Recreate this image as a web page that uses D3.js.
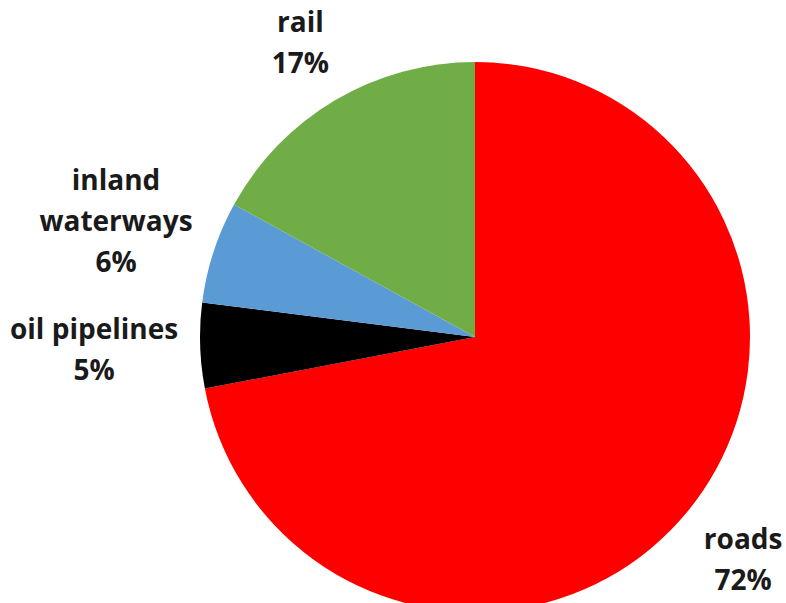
<!DOCTYPE html>
<html>
<head>
<meta charset="utf-8">
<script src="https://cdn.jsdelivr.net/npm/d3@7"></script>
<style>
  body { margin: 0; background: #fff; }
  svg { display: block; }
</style>
</head>
<body>
<div id="chart"></div>
<script>
// shares of freight transport, clockwise from 12 o'clock
var categories = ['roads', 'oil pipelines', 'inland waterways', 'rail'];
var values = [72, 5, 6, 17];
var labelLines = [['roads', '72%'], ['oil pipelines', '5%'], ['inland', 'waterways', '6%'], ['rail', '17%']];
var colors = ['#ff0000', '#000000', '#5b9bd5', '#70ad47'];

var width = 786, height = 603;
var cx = 475, cy = 337, radius = 275;
var lineH = 41;

var svg = d3.select('#chart').append('svg')
    .attr('width', width)
    .attr('height', height);

var g = svg.append('g')
    .attr('transform', 'translate(' + cx + ',' + cy + ')');

var rows = categories.map(function(c, i) { return { name: c, value: values[i], i: i }; });

var pie = d3.pie()
    .sort(null)
    .value(function(d) { return d.value; });

var arc = d3.arc()
    .innerRadius(0)
    .outerRadius(radius);

var arcs = pie(rows);

g.selectAll('path')
    .data(arcs)
    .enter()
    .append('path')
    .attr('d', arc)
    .attr('fill', function(d) { return colors[d.data.i]; });

// labels: box sits just outside the rim along the slice's mid angle
var labels = g.selectAll('g.lbl')
    .data(arcs)
    .enter()
    .append('g')
    .attr('class', 'lbl');

var txt = labels.append('text')
    .attr('text-anchor', 'middle')
    .style('font-family', '"Open Sans", sans-serif')
    .style('font-weight', 'bold')
    .style('font-size', '28px')
    .attr('fill', '#1a1a1a');

txt.each(function(d) {
    var t = d3.select(this);
    labelLines[d.data.i].forEach(function(s, k) {
        t.append('tspan').attr('x', 0).attr('y', k * lineH).text(s);
    });
});

labels.each(function(d) {
    var bb = this.getBBox();
    var a = (d.startAngle + d.endAngle) / 2;
    var ux = Math.sin(a), uy = -Math.cos(a);
    var ax = ux * radius * 1.08, ay = uy * radius * 1.08;
    var k = Math.min(bb.width / 2 / Math.max(Math.abs(ux), 1e-6), bb.height / 2 / Math.max(Math.abs(uy), 1e-6));
    var mx = ax + ux * k, my = ay + uy * k;
    var bx = bb.x + bb.width / 2, by = bb.y + bb.height / 2;
    d3.select(this).attr('transform', 'translate(' + (mx - bx) + ',' + (my - by) + ')');
});
</script>
</body>
</html>
